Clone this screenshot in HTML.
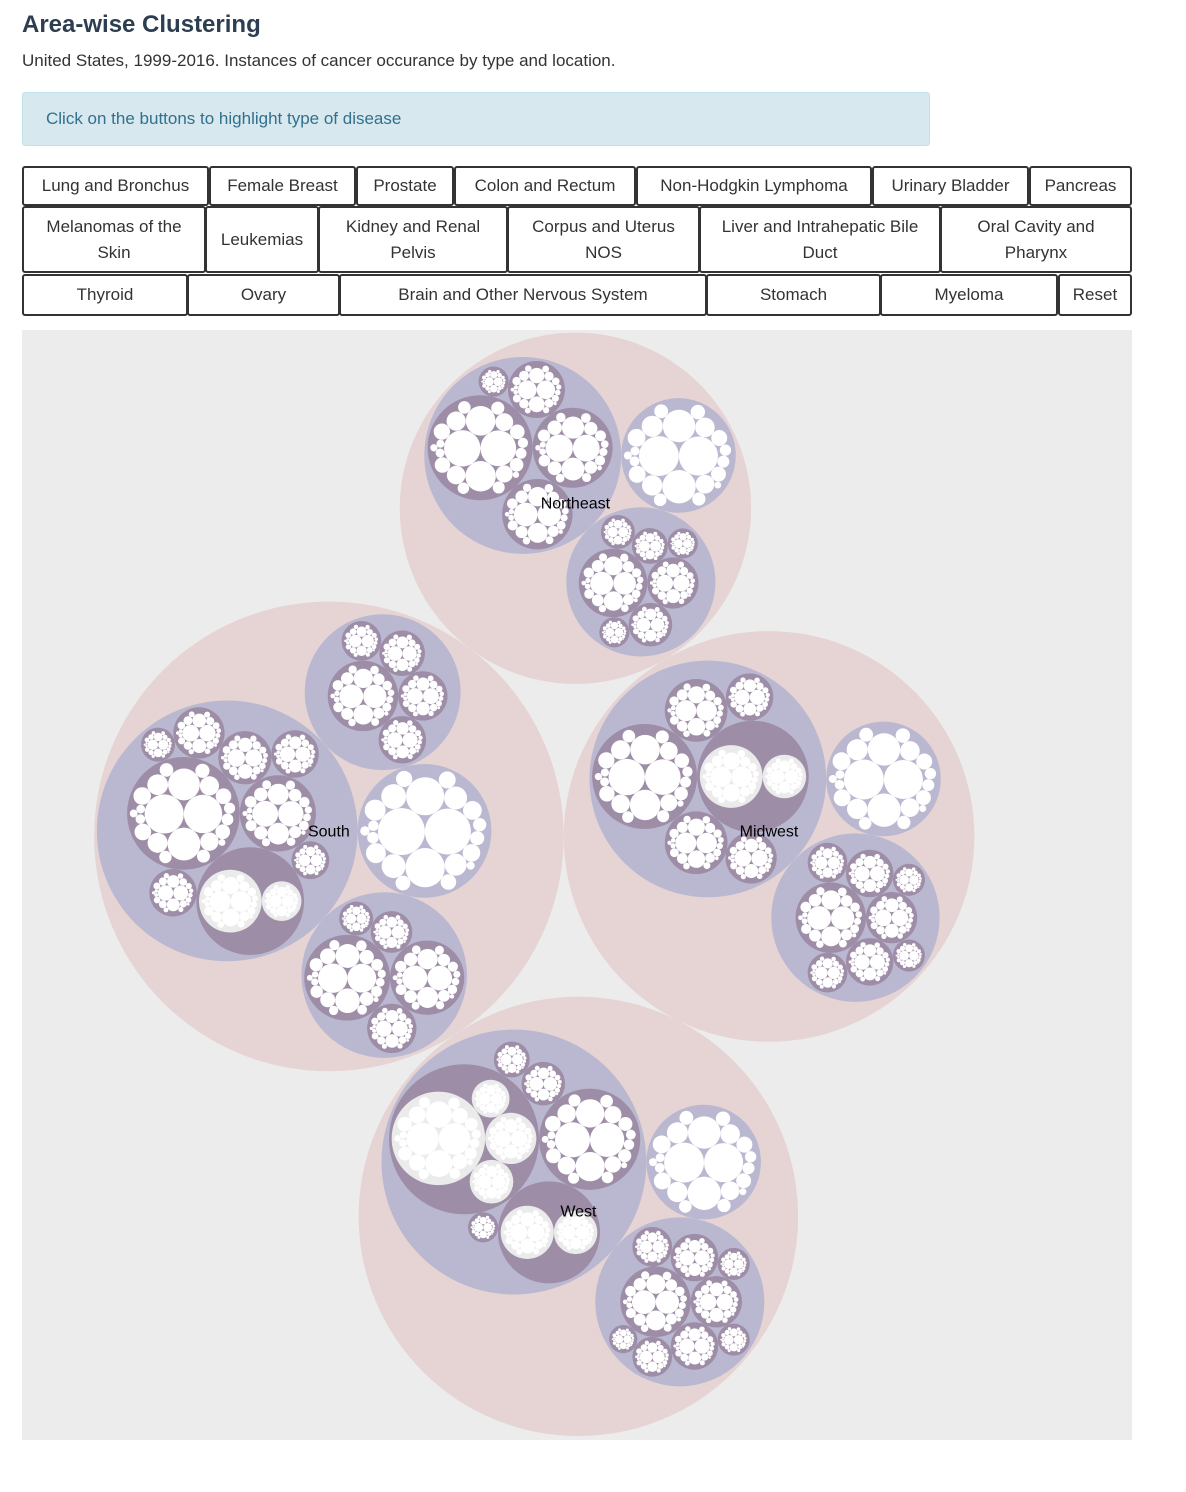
<!DOCTYPE html>
<html><head><meta charset="utf-8">
<style>
body{margin:0;background:#fff;font-family:"Liberation Sans",sans-serif;width:1186px;height:1492px;overflow:hidden;position:relative}
h1{position:absolute;left:22px;top:11px;margin:0;font-size:24px;font-weight:bold;color:#2c3e50}
.sub{position:absolute;left:22px;top:51px;font-size:17px;color:#333}
.info{position:absolute;left:22px;top:92px;width:908px;height:54px;background:#d7e9ee;border:1px solid #bfe3ec;border-radius:3px;box-sizing:border-box;color:#31708f;font-size:17px;line-height:52px;padding-left:23px}
.btn{position:absolute;box-sizing:border-box;border:2px solid #333;border-radius:3px;background:#fff;color:#333;font-size:17px;display:flex;align-items:center;justify-content:center;text-align:center;line-height:26px}
svg{position:absolute;left:22px;top:330px}
</style></head><body>
<h1>Area-wise Clustering</h1>
<div class="sub">United States, 1999-2016. Instances of cancer occurance by type and location.</div>
<div class="info">Click on the buttons to highlight type of disease</div>
<div class="btn" style="left:22px;top:166px;width:187px;height:40px">Lung and Bronchus</div>
<div class="btn" style="left:209px;top:166px;width:147px;height:40px">Female Breast</div>
<div class="btn" style="left:356px;top:166px;width:98px;height:40px">Prostate</div>
<div class="btn" style="left:454px;top:166px;width:182px;height:40px">Colon and Rectum</div>
<div class="btn" style="left:636px;top:166px;width:236px;height:40px">Non-Hodgkin Lymphoma</div>
<div class="btn" style="left:872px;top:166px;width:157px;height:40px">Urinary Bladder</div>
<div class="btn" style="left:1029px;top:166px;width:103px;height:40px">Pancreas</div>
<div class="btn" style="left:22px;top:206px;width:184px;height:67px">Melanomas of the<br>Skin</div>
<div class="btn" style="left:205px;top:206px;width:114px;height:67px">Leukemias</div>
<div class="btn" style="left:318px;top:206px;width:190px;height:67px">Kidney and Renal<br>Pelvis</div>
<div class="btn" style="left:507px;top:206px;width:193px;height:67px">Corpus and Uterus<br>NOS</div>
<div class="btn" style="left:699px;top:206px;width:242px;height:67px">Liver and Intrahepatic Bile<br>Duct</div>
<div class="btn" style="left:940px;top:206px;width:192px;height:67px">Oral Cavity and<br>Pharynx</div>
<div class="btn" style="left:22px;top:274px;width:166px;height:42px">Thyroid</div>
<div class="btn" style="left:187px;top:274px;width:153px;height:42px">Ovary</div>
<div class="btn" style="left:339px;top:274px;width:368px;height:42px">Brain and Other Nervous System</div>
<div class="btn" style="left:706px;top:274px;width:175px;height:42px">Stomach</div>
<div class="btn" style="left:880px;top:274px;width:178px;height:42px">Myeloma</div>
<div class="btn" style="left:1058px;top:274px;width:74px;height:42px">Reset</div>
<svg id="chart" width="1110" height="1110"></svg>
<script>
// ---- data ----
var regionNames = ["South","Midwest","West","Northeast"];
// group spec: number = leaf group; array = states (number leaf, array = sub-areas)
var southGroups = [[3136,1369,[900,324],625,576,484,484,289,225],4489,[1764,1296,529,361,225],[1156,529,484,441,324]];
var midwestGroups = [[2704,[900,400],900,900,576,484],3249,[1156,576,484,484,324,324,196,196]];
var westGroups = [[[2116,576,400,289],2500,[625,400],400,256,169],3249,[1156,576,484,484,324,324,196,196,144]];
var northeastGroups = [[2704,1521,1156,729,169],3249,[1089,576,400,256,225,169,169]];
var regionGroups = [southGroups,midwestGroups,westGroups,northeastGroups];
var typeShares = [100,96,70,66,28,26,24,22,20,18,16,14,13,12,11,10,9,8,6,5,4,3];

var SIZE = 1110, PAD = 3;
var shareSum = typeShares.reduce(function(a,b){return a+b;},0);

function build(spec, depth){
  if (typeof spec === "number"){
    return {depth:depth, leaf:true, children:typeShares.map(function(s){return {depth:depth+1, type:true, r:Math.sqrt(s/shareSum*spec)};})};
  }
  return {depth:depth, children:spec.map(function(s){return build(s, depth+1);})};
}
var root = {depth:0, children:regionGroups.map(function(g,i){var n=build(g,1); n.name=regionNames[i]; return n;})};

function place(b,a,c){
  var dx=b.x-a.x, dy=b.y-a.y, d2=dx*dx+dy*dy, x, y, a2, b2;
  if(d2){
    a2=a.r+c.r; a2*=a2; b2=b.r+c.r; b2*=b2;
    if(a2>b2){ x=(d2+b2-a2)/(2*d2); y=Math.sqrt(Math.max(0,b2/d2-x*x)); c.x=b.x-x*dx-y*dy; c.y=b.y-x*dy+y*dx; }
    else { x=(d2+a2-b2)/(2*d2); y=Math.sqrt(Math.max(0,a2/d2-x*x)); c.x=a.x+x*dx-y*dy; c.y=a.y+x*dy+y*dx; }
  } else { c.x=a.x+c.r; c.y=a.y; }
}
function intersects(a,b){ var dr=a.r+b.r-1e-6, dx=b.x-a.x, dy=b.y-a.y; return dr>0 && dr*dr>dx*dx+dy*dy; }
function score(node){ var a=node._, b=node.next._, ab=a.r+b.r, dx=(a.x*b.r+b.x*a.r)/ab, dy=(a.y*b.r+b.y*a.r)/ab; return dx*dx+dy*dy; }
function packSiblings(circles){
  var n=circles.length; if(!n) return;
  var a=circles[0]; a.x=0; a.y=0; if(n===1) return;
  var b=circles[1]; a.x=-b.r; b.x=a.r; b.y=0; if(n===2) return;
  var c=circles[2]; place(b,a,c);
  a={_:a}; b={_:b}; c={_:c};
  a.next=c.previous=b; b.next=a.previous=c; c.next=b.previous=a;
  pack: for(var i=3;i<n;++i){
    place(a._,b._,c=circles[i]); c={_:c};
    var j=b.next,k=a.previous,sj=b._.r,sk=a._.r;
    do{
      if(sj<=sk){ if(intersects(j._,c._)){ b=j; a.next=b; b.previous=a; --i; continue pack; } sj+=j._.r; j=j.next; }
      else { if(intersects(k._,c._)){ a=k; a.next=b; b.previous=a; --i; continue pack; } sk+=k._.r; k=k.previous; }
    } while(j!==k.next);
    c.previous=a; c.next=b; a.next=b.previous=b=c;
    var aa=score(a), ca;
    while((c=c.next)!==b){ if((ca=score(c))<aa){ a=c; aa=ca; } }
    b=a.next;
  }
}
function enclose(cs){
  var cx=0, cy=0; cs.forEach(function(c){cx+=c.x; cy+=c.y;}); cx/=cs.length; cy/=cs.length;
  for(var it=1; it<800; it++){
    var best=null, bd=-1;
    cs.forEach(function(c){ var d=Math.hypot(c.x-cx,c.y-cy)+c.r; if(d>bd){bd=d;best=c;} });
    var dx=best.x-cx, dy=best.y-cy, L=Math.hypot(dx,dy)||1;
    var px=best.x+best.r*dx/L, py=best.y+best.r*dy/L;
    cx+=(px-cx)/(it+1); cy+=(py-cy)/(it+1);
  }
  var R=0; cs.forEach(function(c){ R=Math.max(R,Math.hypot(c.x-cx,c.y-cy)+c.r); });
  cs.forEach(function(c){ c.x-=cx; c.y-=cy; });
  return R;
}
function layout(node, pad){
  if(node.type) return;
  node.children.forEach(function(ch){ layout(ch,pad); });
  packSiblings(node.children);
  node.r = enclose(node.children) + pad;
}
layout(root, 0);
var k = (SIZE/2)/root.r;
layout(root, PAD/k);
k = (SIZE/2)/root.r;
function absolute(node, ox, oy){
  node.ax = ox + node.x*k; node.ay = oy + node.y*k; node.ar = node.r*k;
  if(node.children) node.children.forEach(function(ch){ absolute(ch, node.ax, node.ay); });
}
root.x=0; root.y=0;
absolute(root, SIZE/2, SIZE/2);

// ---- render ----
var NS="http://www.w3.org/2000/svg", svg=document.getElementById("chart");
var bg=document.createElementNS(NS,"rect");
bg.setAttribute("width",SIZE); bg.setAttribute("height",SIZE); bg.setAttribute("fill","#ececec");


svg.appendChild(bg);
var depthFill=["#ececec","#e5d4d3","#bab8d0","#9e8da7","#ebebeb"];
var depthName=["root","region-circle","area-group-circle","state-circle","sub-area-circle"];
function draw(node){
  var c=document.createElementNS(NS,"circle");
  c.setAttribute("cx",node.ax.toFixed(2)); c.setAttribute("cy",node.ay.toFixed(2)); c.setAttribute("r",Math.max(0,node.ar).toFixed(2));
  c.setAttribute("fill", node.type ? "#ffffff" : depthFill[node.depth]);
  if(node.type){
    
  } else {
    
  }
  
  svg.appendChild(c);
  if(node.children) node.children.forEach(draw);
}
root.children.forEach(draw);
root.children.forEach(function(r){
  var t=document.createElementNS(NS,"text");
  t.setAttribute("x",r.ax.toFixed(1)); t.setAttribute("y",r.ay.toFixed(1));
  t.setAttribute("text-anchor","middle"); t.setAttribute("font-size","16");
  t.setAttribute("font-family","Liberation Sans, sans-serif"); t.setAttribute("fill","#000");
  t.textContent=r.name;
  
  
  svg.appendChild(t);
});
</script>
</body></html>
